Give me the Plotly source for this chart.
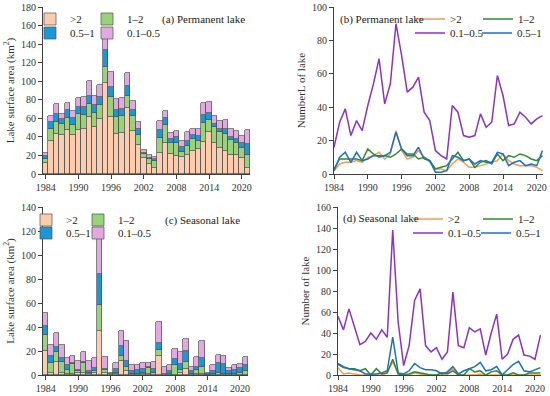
import plotly.graph_objects as go

years = list(range(1984, 2022))
tick_years = [1984, 1990, 1996, 2002, 2008, 2014, 2020]
classes_bar = [">2", "1–2", "0.5–1", "0.1–0.5"]
classes_line = [">2", "1–2", "0.1–0.5", "0.5–1"]

# (a) Permanent lake surface area (km2) per size class
perm_area_gt2 = [12, 36, 43, 42, 47, 42, 47, 49, 61, 51, 59, 98, 61, 43, 44, 71, 46, 31, 17, 11,
                 7, 23, 33, 22, 19, 18, 20, 25, 27, 35, 45, 33, 28, 25, 21, 20, 17, 6]
perm_area_1_2 = [4, 13, 13, 12, 13, 11, 18, 15, 14, 15, 15, 17, 22, 18, 18, 13, 16, 11, 5, 5,
                 7, 16, 20, 11, 14, 6, 10, 13, 9, 20, 13, 18, 17, 18, 16, 13, 11, 15]
perm_area_05_1 = [3, 7, 9, 5, 9, 7, 7, 8, 9, 8, 9, 19, 11, 8, 8, 11, 7, 7, 1, 1,
                  2, 8, 7, 5, 7, 5, 6, 4, 5, 9, 8, 3, 4, 5, 3, 5, 5, 11]
perm_area_01_05 = [4, 7, 10, 6, 8, 8, 10, 11, 16, 10, 13, 21, 16, 12, 12, 14, 10, 7, 3, 3,
                   2, 10, 8, 6, 6, 7, 9, 7, 8, 13, 12, 8, 8, 10, 9, 8, 8, 15]

# (b) Permanent lake number per size class
perm_num_gt2 = [2, 6, 7, 7, 8, 7, 10, 11, 13, 9, 12, 26, 14, 9, 10, 14, 10, 7, 3, 3,
                2, 6, 9, 7, 4, 4, 5, 6, 7, 8, 12, 8, 6, 5, 5, 5, 4, 2]
perm_num_1_2 = [3, 9, 9, 9, 9, 8, 15, 12, 10, 11, 10, 12, 15, 12, 12, 9, 10, 8, 3, 4,
                5, 9, 13, 8, 9, 4, 7, 8, 6, 12, 8, 11, 10, 12, 11, 9, 8, 11]
perm_num_01_05 = [16, 31, 39, 23, 32, 26, 41, 54, 69, 42, 54, 90, 71, 49, 52, 58, 37, 32, 14, 11,
                  9, 41, 37, 23, 22, 23, 36, 28, 31, 59, 47, 29, 30, 37, 34, 30, 33, 35]
perm_num_05_1 = [2, 10, 13, 7, 13, 8, 9, 11, 11, 11, 13, 25, 15, 11, 11, 16, 9, 8, 1, 1,
                 2, 11, 10, 8, 9, 6, 8, 7, 7, 13, 12, 5, 7, 8, 5, 6, 5, 14]

# (c) Seasonal lake surface area (km2) per size class
seas_area_gt2 = [20, 2, 11, 2, 1, 1, 2, 2, 1, 2, 37, 2, 0, 1, 12, 3, 0, 0, 1, 1,
                 0, 16, 0, 0, 0, 2, 5, 0, 1, 1, 0, 0, 0, 0, 0, 0, 0, 0]
seas_area_1_2 = [13, 8, 8, 9, 3, 8, 1, 8, 1, 1, 21, 2, 0.5, 1, 4, 4, 1, 1, 1, 5,
                 2, 5, 0.5, 1, 8, 2, 6, 1, 3, 6, 0.3, 1, 2, 1, 1, 1, 2, 3]
seas_area_05_1 = [8, 6, 4, 3, 4, 1, 1, 1, 1, 3, 26, 1, 0.5, 3, 8, 5, 2, 3, 3, 1,
                  3, 6, 0.5, 2, 5, 5, 9, 2, 3, 7, 0.2, 2, 8, 8, 2, 3, 4, 5]
seas_area_01_05 = [11, 9, 12, 11, 6, 6, 8, 8, 9, 8, 31, 10, 1, 5, 13, 16, 5, 4, 5, 3,
                   6, 17, 6, 5, 9, 10, 10, 4, 8, 14, 1.5, 5, 7, 7, 3, 4, 3, 7]

# (d) Seasonal lake number per size class
seas_num_gt2 = [7, 1, 2, 1, 0, 0, 0, 0, 0, 2, 13, 1, 0, 0, 2, 1, 0, 0, 0, 0,
                2, 6, 0, 0, 0, 0, 1, 0, 0, 0, 0, 0, 0, 0, 0, 0, 0, 0]
seas_num_1_2 = [10, 7, 6, 6, 4, 6, 0, 6, 1, 2, 15, 1, 0, 1, 3, 2, 1, 0, 0, 2,
                1, 4, 0, 0, 6, 3, 4, 0, 3, 4, 0, 0, 2, 0, 0, 2, 2, 2]
seas_num_01_05 = [56, 43, 63, 45, 29, 32, 40, 34, 43, 36, 138, 50, 9, 28, 71, 82, 28, 22, 26, 15,
                  22, 79, 28, 26, 45, 41, 44, 19, 40, 58, 15, 20, 34, 38, 19, 18, 15, 38]
seas_num_05_1 = [11, 8, 6, 5, 4, 1, 1, 1, 2, 4, 36, 2, 1, 4, 11, 7, 5, 5, 4, 1,
                 3, 8, 1, 4, 6, 8, 12, 4, 5, 8, 0, 5, 10, 13, 4, 3, 5, 7]

BAR_COLORS = {">2": "#FBCDAE", "1–2": "#98D37B", "0.5–1": "#1A97D4", "0.1–0.5": "#E2A8E0"}
LINE_COLORS = {">2": "#FB9A4B", "1–2": "#2E8B2E", "0.1–0.5": "#8A33C4", "0.5–1": "#1F6FC2"}

FONT = "Liberation Serif"
AX_COLOR = "#404040"
W, H = 550, 396
TXT_OFF = 42  # legend x -> legend text start (px)

fig = go.Figure()

def px_x(a, b):
    return [a / W, b / W]

def px_y(top, bottom):
    return [1 - bottom / H, 1 - top / H]

legend_layout = {}
leg_counter = [0]

def new_legend(text_x, text_y):
    leg_counter[0] += 1
    n = leg_counter[0]
    key = "legend" if n == 1 else f"legend{n}"
    legend_layout[key] = dict(
        x=(text_x - TXT_OFF) / W, xanchor="left", y=1 - text_y / H, yanchor="middle",
        bgcolor="rgba(0,0,0,0)", borderwidth=0, traceorder="normal",
        font=dict(family=FONT, size=11, color="#222"))
    if n > 1:
        legend_layout[key]["visible"] = True
    return key

# legend text positions (px) for each panel, in class order
bar_leg_pos = {
    "a": {">2": (72, 19), "1–2": (129, 19), "0.5–1": (72, 33), "0.1–0.5": (129, 33)},
    "c": {">2": (68, 220), "1–2": (120, 220), "0.5–1": (68, 233), "0.1–0.5": (120, 233)},
}
line_leg_pos = {
    "b": {">2": (452, 19), "1–2": (520, 19), "0.1–0.5": (452, 33), "0.5–1": (519, 33)},
    "d": {">2": (450, 219), "1–2": (520, 219), "0.1–0.5": (450, 233), "0.5–1": (518, 233)},
}

# ---- bars ----
area_sets = [
    ("a", "x", "y", [perm_area_gt2, perm_area_1_2, perm_area_05_1, perm_area_01_05]),
    ("c", "x3", "y3", [seas_area_gt2, seas_area_1_2, seas_area_05_1, seas_area_01_05]),
]
for panel, xa, ya, series in area_sets:
    for name, vals in zip(classes_bar, series):
        lg = new_legend(*bar_leg_pos[panel][name])
        fig.add_trace(go.Bar(
            x=years, y=vals, name=name, xaxis=xa, yaxis=ya, legend=lg, showlegend=True,
            marker=dict(color=BAR_COLORS[name], line=dict(color="#505050", width=0.7)),
        ))

# ---- lines ----
num_sets = [
    ("b", "x2", "y2", [perm_num_gt2, perm_num_1_2, perm_num_01_05, perm_num_05_1]),
    ("d", "x4", "y4", [seas_num_gt2, seas_num_1_2, seas_num_01_05, seas_num_05_1]),
]
for panel, xa, ya, series in num_sets:
    for name, vals in zip(classes_line, series):
        lg = new_legend(*line_leg_pos[panel][name])
        fig.add_trace(go.Scatter(
            x=years, y=vals, name=name, xaxis=xa, yaxis=ya, legend=lg, mode="lines",
            showlegend=True, line=dict(color=LINE_COLORS[name], width=1.5),
        ))

axis_common = dict(
    showline=True, linecolor=AX_COLOR, linewidth=1, ticks="outside", ticklen=4,
    tickcolor=AX_COLOR, showgrid=False, zeroline=False, automargin=False,
    tickfont=dict(family=FONT, size=10, color="#333"),
)

def xax(domain, rng, anchor):
    return dict(axis_common, domain=domain, range=rng, anchor=anchor,
                tickmode="array", tickvals=tick_years)

def yax(domain, rng, anchor, title):
    return dict(axis_common, domain=domain, range=rng, anchor=anchor, dtick=20,
                title=dict(text=title, font=dict(family=FONT, size=11, color="#333"), standoff=4))

fig.update_layout(
    width=W, height=H, autosize=False, showlegend=True,
    margin=dict(l=0, r=0, t=0, b=0, pad=0, autoexpand=False),
    paper_bgcolor="white", plot_bgcolor="white",
    barmode="stack", bargap=0,
    font=dict(family=FONT, size=11, color="#222"),
    xaxis=xax(px_x(43, 250), [1983.5, 2021.5], "y"),
    yaxis=yax(px_y(7, 174), [0, 180], "x", "Lake surface area (km<sup>2</sup>)"),
    xaxis2=xax(px_x(334, 543), [1984, 2021.1], "y2"),
    yaxis2=yax(px_y(7, 174), [0, 100], "x2", "NumberL of lake"),
    xaxis3=xax(px_x(43, 248), [1983.5, 2021.5], "y3"),
    yaxis3=yax(px_y(207, 375), [0, 140], "x3", "Lake surface area (km<sup>2</sup>)"),
    xaxis4=xax(px_x(338, 541), [1984, 2021.1], "y4"),
    yaxis4=yax(px_y(207, 375), [0, 160], "x4", "Number of lake"),
    **legend_layout,
)

titles = [
    ("(a) Permanent lake", 247, 19, "right"),
    ("(b) Permanent lake", 338, 19, "left"),
    ("(c) Seasonal lake", 242, 220, "right"),
    ("(d) Seasonal lake", 341, 219, "left"),
]
for text, xp, yp, anc in titles:
    fig.add_annotation(text=text, x=xp / W, y=1 - yp / H, xref="paper", yref="paper",
                       xanchor=anc, yanchor="middle", showarrow=False,
                       font=dict(family=FONT, size=11, color="#222"))

# remove the browser's default 8px page margin so the 550x396 figure fills the window
fig.write_html("out.html", config={"responsive": False, "displayModeBar": False},
               post_script="document.body.style.margin='0';document.body.style.overflow='hidden';")
